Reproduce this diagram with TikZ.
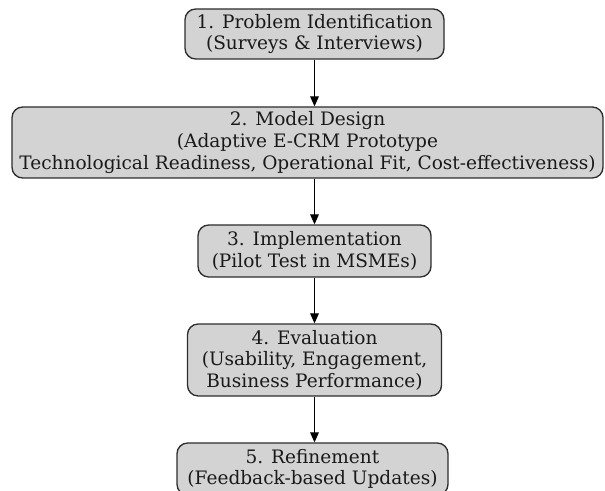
\documentclass[tikz,border=0pt]{standalone}
\usepackage{fontspec}
\setmainfont{DejaVu Serif}
\usetikzlibrary{arrows.meta}
\definecolor{stagefill}{RGB}{211,211,211}
\definecolor{edgegray}{RGB}{45,45,45}
\begin{document}
\begin{tikzpicture}[x=0.75pt,y=-0.75pt,
  stage/.style={draw=edgegray, fill=stagefill, rounded corners=8pt,
    line width=1pt, align=center, inner sep=0pt, text=black!90,
    font=\fontsize{13.9}{16.2}\selectfont},
  flow/.style={draw=black, line width=0.9pt,
    -{Triangle[length=7.5pt,width=6.5pt]}}]
  \clip (0,0) rectangle (605,491);

  % process stages, top to bottom
  \node[stage, minimum width=194.25pt, minimum height=37.5pt] (b1) at (314.5,34)
    {1. Problem Identification\\(Surveys \& Interviews)};
  \node[stage, minimum width=443.25pt, minimum height=53.25pt] (b2) at (307.5,142.5)
    {2. Model Design\\(Adaptive E-CRM Prototype\\Technological Readiness, Operational Fit, Cost-effectiveness)};
  \node[stage, minimum width=174.75pt, minimum height=39pt] (b3) at (314.5,251)
    {3. Implementation\\(Pilot Test in MSMEs)};
  \node[stage, minimum width=190.5pt, minimum height=54pt] (b4) at (314.5,360)
    {4. Evaluation\\(Usability, Engagement,\\Business Performance)};
  \node[stage, minimum width=203.25pt, minimum height=39pt] (b5) at (312.5,469)
    {5. Refinement\\(Feedback-based Updates)};

  % connectors between consecutive stages
  \draw[flow] (b1.south) -- (b1.south |- b2.north);
  \draw[flow] (b3.north |- b2.south) -- (b3.north);
  \draw[flow] (b3.south) -- (b3.south |- b4.north);
  \draw[flow] (b4.south) -- (b4.south |- b5.north);
\end{tikzpicture}
\end{document}
